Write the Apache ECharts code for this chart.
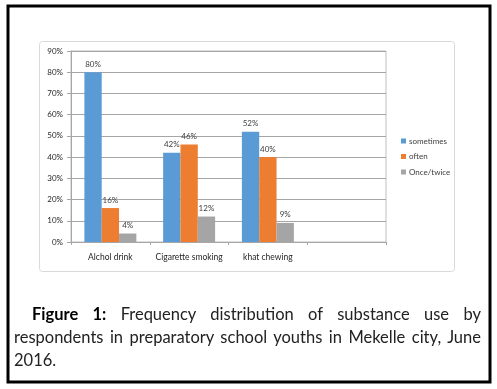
<!DOCTYPE html>
<html>
<head>
<meta charset="utf-8">
<script src="https://cdn.jsdelivr.net/npm/echarts@6/dist/echarts.min.js"></script>
<style>
html,body{margin:0;padding:0;background:#fff;}
#wrap{position:relative;width:497px;height:389px;overflow:hidden;}
#chart{position:absolute;left:0;top:0;width:497px;height:389px;}
#caption{position:absolute;left:14px;top:303px;width:467px;font-family:Lato,"Open Sans",sans-serif;font-size:16.5px;line-height:23px;color:#222;text-align:justify;text-indent:18px;}
#caption b{color:#000;}
</style>
</head>
<body>
<div id="wrap">
<div id="chart"></div>
<div id="caption"><b>Figure 1:</b> Frequency distribution of substance use by respondents in preparatory school youths in Mekelle city, June 2016.</div>
</div>
<script>
var categories = ['Alchol drink', 'Cigarette smoking', 'khat chewing', ''];
var sometimes = [80, 42, 52, null];
var often = [16, 46, 40, null];
var onceTwice = [4, 12, 9, null];
var seriesNames = ['sometimes', 'often', 'Once/twice'];
var colors = ['#5b9bd5', '#ed7d31', '#a5a5a5'];

var chart = echarts.init(document.getElementById('chart'));
var font = 'Lato, "Open Sans", sans-serif';
var lbl = {show: true, position: 'top', fontSize: 8, color: '#404040', fontFamily: font, distance: 4, formatter: '{c}%'};
function mk(name, data, i) {
  return {name: name, type: 'bar', data: data, itemStyle: {color: colors[i]}, barGap: '0%', barCategoryGap: '34%', label: lbl};
}
chart.setOption({
  animation: false,
  grid: {left: 71, top: 51, right: 111, bottom: 147, show: true, borderColor: '#bfbfbf', borderWidth: 1},
  graphic: [
    {type: 'rect', shape: {x: 8, y: 6, width: 482, height: 376}, style: {fill: 'none', stroke: '#000', lineWidth: 3}, z: -1},
    {type: 'rect', shape: {x: 39.5, y: 41.5, width: 415, height: 230, r: 3}, style: {fill: 'none', stroke: '#d9d9d9', lineWidth: 1}, z: -1}
  ],
  legend: {
    orient: 'vertical', left: 396, top: 132, itemWidth: 5, itemHeight: 5, itemGap: 7.5,
    icon: 'rect', data: seriesNames,
    textStyle: {fontSize: 8, color: '#404040', fontFamily: font, padding: [0, 0, 0, -2]}
  },
  xAxis: {
    type: 'category', data: categories,
    axisLine: {lineStyle: {color: '#a6a6a6'}},
    axisTick: {show: true, length: 3, interval: 0, lineStyle: {color: '#a6a6a6'}},
    axisLabel: {fontSize: 8.5, color: '#262626', fontFamily: font, margin: 11, interval: 0}
  },
  yAxis: {
    type: 'value', min: 0, max: 90, interval: 10,
    axisLine: {show: true, lineStyle: {color: '#a6a6a6'}},
    axisTick: {show: true, length: 4, lineStyle: {color: '#a6a6a6'}},
    splitLine: {lineStyle: {color: '#a6a6a6'}},
    axisLabel: {fontSize: 8, color: '#262626', fontFamily: font, margin: 8, formatter: '{value}%'}
  },
  series: [mk(seriesNames[0], sometimes, 0), mk(seriesNames[1], often, 1), mk(seriesNames[2], onceTwice, 2)]
});
</script>
</body>
</html>
